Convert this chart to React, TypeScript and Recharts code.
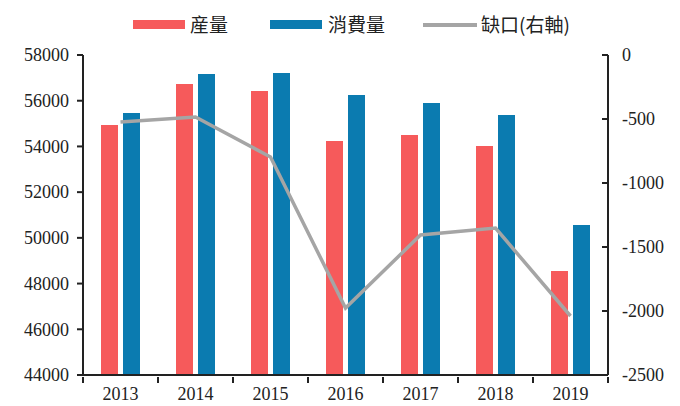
import { Bar, ComposedChart, Line, XAxis, YAxis } from 'recharts';

const years = ['2013', '2014', '2015', '2016', '2017', '2018', '2019'];
const production = [54940, 56730, 56430, 54240, 54500, 54020, 48550];
const consumption = [55460, 57170, 57210, 56250, 55900, 55380, 50560];
const gap = [-523, -484, -797, -1977, -1406, -1352, -2039];

const leftTicks = [44000, 46000, 48000, 50000, 52000, 54000, 56000, 58000];
const rightTicks = [-2500, -2000, -1500, -1000, -500, 0];

const W = 680;
const H = 406;
const LEFT_W = 83;
const RIGHT_W = 72;
const TOP = 55;
const X_H = 31;

const RED = '#f65a5b';
const BLUE = '#0b7bb0';
const GRAY = '#a5a5a5';
const AXIS = '#222';
const serif = '"Liberation Serif", "Times New Roman", serif';
const cjk = '"Noto Sans CJK TC", "Noto Sans CJK SC", sans-serif';
const tickText = { fontFamily: serif, fontSize: 18, fill: '#222' };

const data = years.map((year, i) => ({
  year,
  production: production[i],
  consumption: consumption[i],
  gap: gap[i],
}));

const band = (W - LEFT_W - RIGHT_W) / years.length;

function XTick({ x, y, payload, index }: any) {
  const last = index === years.length - 1;
  return (
    <g>
      <line x1={x - band / 2} x2={x - band / 2} y1={y} y2={y + 6} stroke={AXIS} strokeWidth={2} />
      {last && <line x1={x + band / 2} x2={x + band / 2} y1={y} y2={y + 6} stroke={AXIS} strokeWidth={2} />}
      <text x={x} y={y + 23} textAnchor="middle" style={tickText}>
        {payload.value}
      </text>
    </g>
  );
}

function LeftTick({ x, y, payload }: any) {
  return (
    <g>
      <line x1={x - 6} x2={x} y1={y} y2={y} stroke={AXIS} strokeWidth={2} />
      <text x={x - 14} y={y} dy="0.35em" textAnchor="end" style={tickText}>
        {payload.value}
      </text>
    </g>
  );
}

function RightTick({ x, y, payload }: any) {
  return (
    <g>
      <line x1={x - 6} x2={x} y1={y} y2={y} stroke={AXIS} strokeWidth={2} />
      <text x={x + 14} y={y} dy="0.35em" textAnchor="start" style={tickText}>
        {payload.value}
      </text>
    </g>
  );
}

function LegendBar() {
  const item = { position: 'absolute' as const, top: 11, fontFamily: cjk, fontSize: 19, color: '#222', lineHeight: '26px' };
  return (
    <>
      <div style={{ position: 'absolute', left: 133, top: 20, width: 52, height: 9, background: RED }} />
      <div style={{ ...item, left: 190 }}>産量</div>
      <div style={{ position: 'absolute', left: 270, top: 20, width: 52, height: 9, background: BLUE }} />
      <div style={{ ...item, left: 328 }}>消費量</div>
      <div style={{ position: 'absolute', left: 423, top: 23, width: 54, height: 4, background: GRAY }} />
      <div style={{ ...item, left: 481 }}>缺口(右軸)</div>
    </>
  );
}

export default function App() {
  return (
    <div style={{ position: 'absolute', left: 0, top: 0, width: W, height: H, background: '#fff' }}>
      <LegendBar />
      <ComposedChart
        width={W}
        height={H}
        data={data}
        margin={{ top: TOP, right: 0, bottom: 0, left: 0 }}
        barSize={17}
        barGap={5}
      >
        <XAxis
          dataKey="year"
          height={X_H}
          axisLine={{ stroke: AXIS, strokeWidth: 2 }}
          tickLine={false}
          tickSize={0}
          tick={<XTick />}
          interval={0}
        />
        <YAxis
          yAxisId="left"
          width={LEFT_W}
          domain={[44000, 58000]}
          ticks={leftTicks}
          axisLine={{ stroke: AXIS, strokeWidth: 2 }}
          tickLine={false}
          tickSize={0}
          tickMargin={0}
          tick={<LeftTick />}
          allowDataOverflow
        />
        <YAxis
          yAxisId="right"
          orientation="right"
          width={RIGHT_W}
          domain={[-2500, 0]}
          ticks={rightTicks}
          axisLine={{ stroke: AXIS, strokeWidth: 2 }}
          tickLine={false}
          tickSize={0}
          tickMargin={0}
          tick={<RightTick />}
        />
        <Bar yAxisId="left" dataKey="production" fill={RED} isAnimationActive={false} />
        <Bar yAxisId="left" dataKey="consumption" fill={BLUE} isAnimationActive={false} />
        <Line
          yAxisId="right"
          dataKey="gap"
          type="linear"
          stroke={GRAY}
          strokeWidth={3.5}
          dot={false}
          isAnimationActive={false}
        />
      </ComposedChart>
    </div>
  );
}
